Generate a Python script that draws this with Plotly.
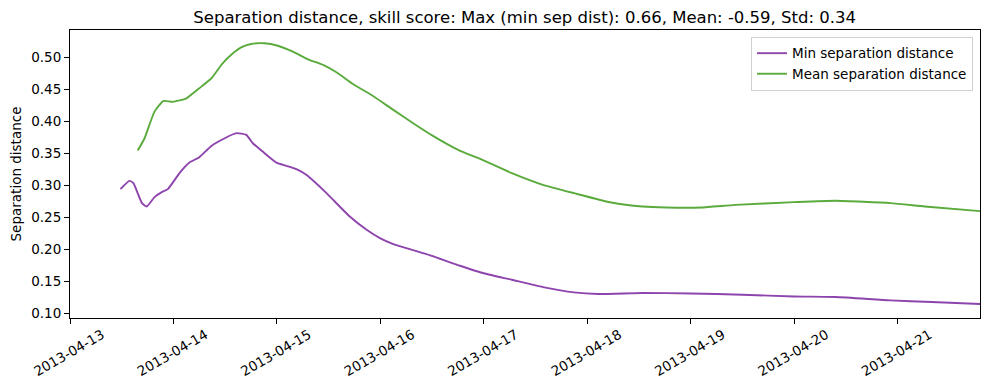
import pandas as pd
import plotly.graph_objects as go

# Time offsets (hours since 2013-04-13 00:00) and values
min_hours = [11.7, 13.8, 14.7, 16.7, 17.8, 19.6, 21.1, 22.7, 25.4, 27.7, 30.0, 32.8,
             35.9, 38.6, 40.9, 42.4, 44.7, 47.9, 50.2, 52.9, 54.8, 59.5, 64.9,
             68.8, 71.9, 75.0, 82.7, 90.5, 95.3, 102.5, 109.7, 116.9, 122.5, 132.8,
             144.0, 156.0, 168.0, 177.6, 190.3, 199.9, 211.1]
min_sep = [0.2938, 0.3067, 0.3031, 0.2719, 0.2666, 0.2813, 0.2884, 0.2938, 0.3188,
           0.3353, 0.3438, 0.3614, 0.3734, 0.3813, 0.3786, 0.3656, 0.3525, 0.3353,
           0.3302, 0.3239, 0.3161, 0.2875, 0.2509, 0.2302, 0.2172, 0.2078,
           0.1922, 0.1739, 0.1634, 0.1520, 0.1406, 0.1322, 0.1297, 0.1313, 0.1306,
           0.1286, 0.1259, 0.1250, 0.1197, 0.1172, 0.1141]

mean_hours = [15.7, 17.3, 19.6, 21.7, 23.8, 27.0, 30.0, 32.8, 35.4, 37.8, 39.7, 42.0,
              45.1, 48.2, 51.7, 55.2, 58.7, 61.8, 65.7, 70.3, 75.0, 79.6, 84.2, 87.4,
              90.5, 95.3, 102.5, 109.7, 116.9, 125.6, 132.8, 138.4, 146.4, 154.4,
              168.0, 177.6, 190.3, 198.3, 211.1]
mean_sep = [0.3541, 0.3734, 0.4150, 0.4317, 0.4302, 0.4359, 0.4516, 0.4672, 0.4906,
            0.5063, 0.5156, 0.5208, 0.5219, 0.5181, 0.5088, 0.4969, 0.4880, 0.4766,
            0.4578, 0.4395, 0.4177, 0.3969, 0.3770, 0.3645, 0.3536, 0.3406, 0.3188,
            0.3005, 0.2875, 0.2728, 0.2666, 0.2650, 0.2650, 0.2692, 0.2734, 0.2755,
            0.2719, 0.2666, 0.2594]

y_ticks = [0.10, 0.15, 0.20, 0.25, 0.30, 0.35, 0.40, 0.45, 0.50]
start = pd.Timestamp("2013-04-13 00:00")
end_hours = 211.1

t_min = start + pd.to_timedelta(min_hours, unit="h")
t_mean = start + pd.to_timedelta(mean_hours, unit="h")

FONT = "DejaVu Sans"
fig = go.Figure()
fig.add_trace(go.Scatter(x=t_min, y=min_sep, mode="lines", name="Min separation distance",
                         line=dict(color="#8e44ad", width=1.9, shape="spline", smoothing=0.5)))
fig.add_trace(go.Scatter(x=t_mean, y=mean_sep, mode="lines", name="Mean separation distance",
                         line=dict(color="#5aab3c", width=1.9, shape="spline", smoothing=0.5)))

fig.update_layout(
    width=989, height=390,
    margin=dict(l=70, r=9, t=30, b=72),
    paper_bgcolor="white", plot_bgcolor="white",
    font=dict(family=FONT, size=13, color="black"),
    title=dict(text="Separation distance, skill score: Max (min sep dist): 0.66, Mean: -0.59, Std: 0.34",
               x=0.5305, xanchor="center", y=0.955, yanchor="middle",
               font=dict(family=FONT, size=16.5, color="black")),
    legend=dict(x=0.9923, xanchor="right", y=0.976, yanchor="top",
                bgcolor="rgba(255,255,255,0.8)", bordercolor="#d0d0d0", borderwidth=1,
                font=dict(family=FONT, size=13.5), tracegroupgap=0, itemwidth=30),
    showlegend=True,
)
fig.update_xaxes(
    range=[start, start + pd.Timedelta(hours=end_hours)],
    type="date", tick0=start, dtick=86400000, tickformat="%Y-%m-%d",
    tickangle=-30, ticklabelshift=32, ticklabelstandoff=-2, ticks="outside", ticklen=5,
    tickwidth=1, tickcolor="black", showline=True, linecolor="black", linewidth=1,
    mirror=True, showgrid=False, zeroline=False, tickfont=dict(family=FONT, size=13.5),
    automargin=False,
)
fig.update_yaxes(
    range=[0.0922, 0.5427], tickvals=y_ticks, tickformat=".2f",
    ticks="outside", ticklen=5, tickwidth=1, tickcolor="black",
    showline=True, linecolor="black", linewidth=1, mirror=True,
    showgrid=False, zeroline=False, tickfont=dict(family=FONT, size=13.5),
    title=dict(text="Separation distance", font=dict(family=FONT, size=13.5), standoff=6),
    automargin=False,
)
fig.write_html("out.html", config={"displayModeBar": False},
               post_script="document.body.style.margin='0';document.body.style.padding='0';")
